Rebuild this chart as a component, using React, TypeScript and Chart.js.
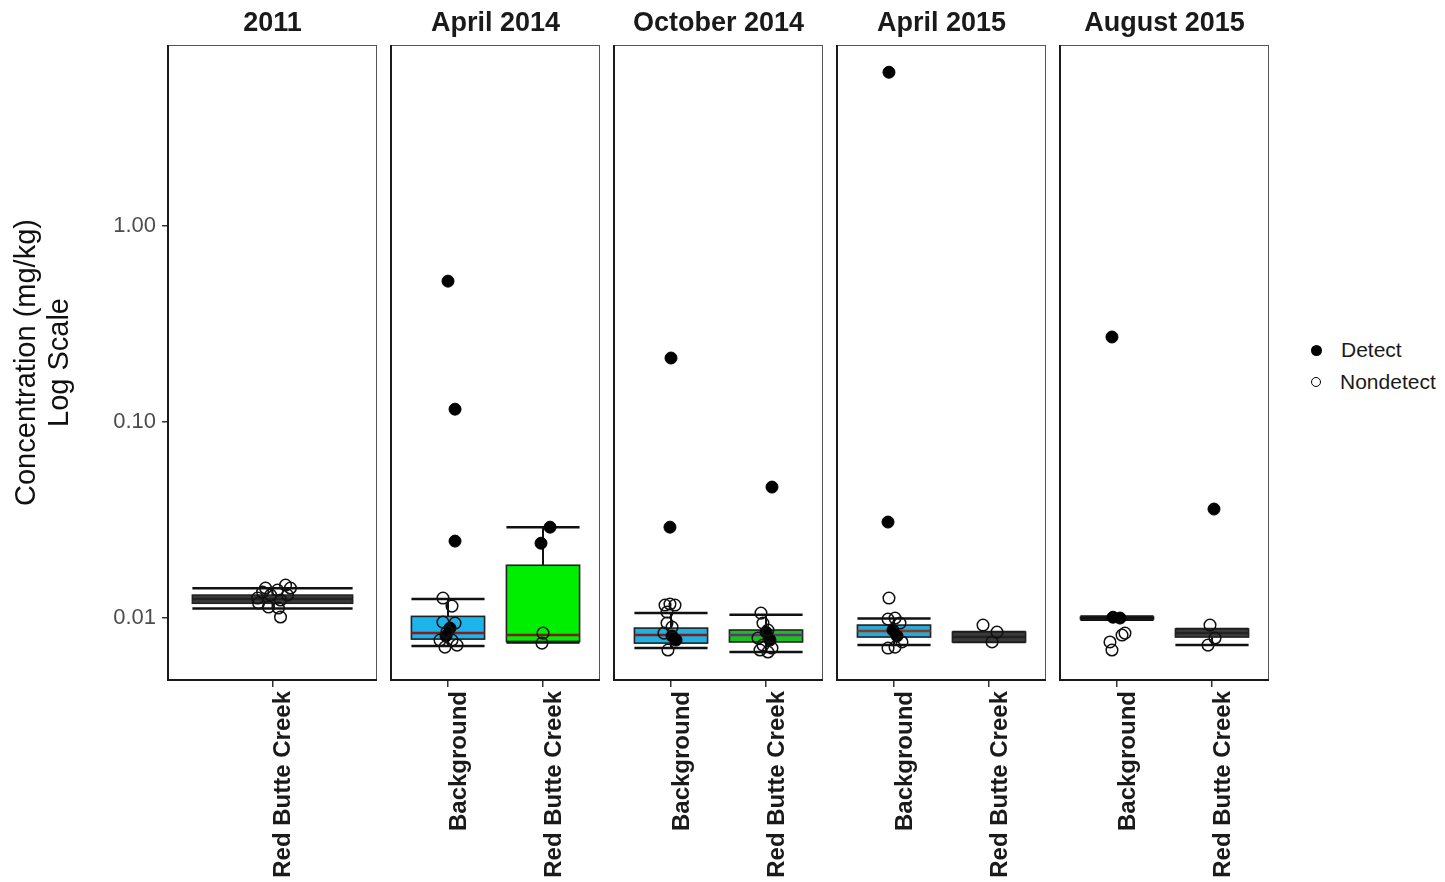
import React, { useEffect, useRef } from "react";
import { Chart, registerables } from "chart.js";

Chart.register(...registerables);

// ---------------- data ----------------
const panelTitles = ["2011", "April 2014", "October 2014", "April 2015", "August 2015"];

const categories2011 = ["Red Butte Creek"];
const categoriesApr2014 = ["Background", "Red Butte Creek"];
const categoriesOct2014 = ["Background", "Red Butte Creek"];
const categoriesApr2015 = ["Background", "Red Butte Creek"];
const categoriesAug2015 = ["Background", "Red Butte Creek"];

const yTickValues = [0.01, 0.1, 1];
const yMin = 0.00483;
const yMax = 8.4;

// box stats per category: [low whisker, Q1, median, Q3, high whisker]
const box2011 = [[0.0112, 0.0119, 0.0125, 0.0131, 0.0142]];
const boxApr2014 = [
  [0.0072, 0.00781, 0.00838, 0.0102, 0.0125],
  [0.0075, 0.0076, 0.00819, 0.0186, 0.0291],
];
const boxOct2014 = [
  [0.00703, 0.00745, 0.00819, 0.00889, 0.0106],
  [0.00671, 0.00755, 0.00819, 0.00869, 0.0104],
];
const boxApr2015 = [
  [0.00728, 0.008, 0.00858, 0.00921, 0.00994],
  [0.00755, 0.00755, 0.008, 0.00848, 0.00848],
];
const boxAug2015 = [
  [0.0098, 0.0099, 0.01, 0.0101, 0.0102],
  [0.00728, 0.008, 0.00838, 0.00879, 0.00879],
];

// points: [category position (1-based) with jitter, concentration]
const detect2011: number[][] = [];
const nondetect2011 = [
  [0.96, 0.01423], [1.075, 0.01472], [1.029, 0.01389], [0.914, 0.01265], [0.989, 0.01311],
  [1.046, 0.01236], [1.086, 0.01311], [0.92, 0.01193], [0.977, 0.01138], [1.034, 0.01125],
  [1.046, 0.01012], [0.943, 0.01358], [1.103, 0.01423],
];
const detectApr2014 = [
  [1.0, 0.524], [1.074, 0.1164], [1.074, 0.0247], [1.021, 0.00889], [0.979, 0.0081],
  [2.074, 0.0291], [1.979, 0.0241],
];
const nondetectApr2014 = [
  [0.947, 0.01265], [1.042, 0.01151], [0.947, 0.00954], [1.074, 0.00943], [0.989, 0.00848],
  [0.916, 0.00772], [1.042, 0.00772], [0.968, 0.00711], [1.095, 0.00728],
  [2.0, 0.00838], [1.989, 0.00745],
];
const detectOct2014 = [
  [1.0, 0.2123], [0.989, 0.0291], [1.011, 0.0081], [1.053, 0.00772],
  [2.063, 0.0466], [2.0, 0.00848], [2.042, 0.00772],
];
const nondetectOct2014 = [
  [0.937, 0.01165], [0.989, 0.01179], [1.042, 0.01165], [0.958, 0.01073], [0.958, 0.00943],
  [1.011, 0.009], [0.968, 0.00687], [0.926, 0.00838],
  [1.947, 0.0106], [1.968, 0.00943], [2.021, 0.00869], [1.916, 0.00791], [1.968, 0.00728],
  [2.063, 0.00703], [1.937, 0.00687], [2.021, 0.00671],
];
const detectApr2015 = [[0.947, 6.1], [0.937, 0.0309], [0.989, 0.00868], [1.032, 0.0081]];
const nondetectApr2015 = [
  [0.947, 0.01265], [0.937, 0.00988], [1.011, 0.01], [1.063, 0.00943], [1.084, 0.00755],
  [0.937, 0.00703], [1.011, 0.00711],
  [1.937, 0.00921], [2.084, 0.00848], [2.032, 0.00755],
];
const detectAug2015 = [[0.947, 0.2718], [0.958, 0.0101], [1.032, 0.01], [2.021, 0.036]];
const nondetectAug2015 = [
  [0.926, 0.00755], [1.053, 0.00819], [1.084, 0.00838], [0.947, 0.00687],
  [1.979, 0.00921], [1.958, 0.00728], [2.032, 0.00791],
];

// ---------------- styles ----------------
const boxFills = [
  ["#3b3b3b"],
  ["#1cb4ea", "#00ee00"],
  ["#22b0e0", "#19c219"],
  ["#2aa8d8", "#3a3a3a"],
  ["#111111", "#3e3e3e"],
];
const medianColors = [
  ["#222222"],
  ["#8b1a1a", "#7a1f1f"],
  ["#7b1e1e", "#6a2c8a"],
  ["#8a3a1a", "#222222"],
  ["#111111", "#222222"],
];
const boxHalfWidth = [0.46, 0.385, 0.385, 0.385, 0.385];

const PANEL_LEFT = [168, 391, 614, 837, 1060];
const PANEL_W = 209;
const PANEL_TOP = 45;
const X_AXIS_H = 202;
const Y_AXIS_W = 168;
const FONT = "'Liberation Sans', Arial, Helvetica, sans-serif";

const panels = [
  { cats: categories2011, boxes: box2011, detect: detect2011, nondetect: nondetect2011 },
  { cats: categoriesApr2014, boxes: boxApr2014, detect: detectApr2014, nondetect: nondetectApr2014 },
  { cats: categoriesOct2014, boxes: boxOct2014, detect: detectOct2014, nondetect: nondetectOct2014 },
  { cats: categoriesApr2015, boxes: boxApr2015, detect: detectApr2015, nondetect: nondetectApr2015 },
  { cats: categoriesAug2015, boxes: boxAug2015, detect: detectAug2015, nondetect: nondetectAug2015 },
];

function makeBoxPlugin(idx: number) {
  return {
    id: "boxes" + idx,
    beforeDatasetsDraw(chart: any) {
      const { ctx, chartArea: a, scales } = chart;
      const x = scales.x;
      const y = scales.y;
      const p = panels[idx];
      ctx.save();
      // panel frame
      ctx.strokeStyle = "#555555";
      ctx.lineWidth = 1;
      ctx.strokeRect(a.left + 0.5, a.top + 0.5, a.right - a.left - 1, a.bottom - a.top - 1);
      ctx.strokeStyle = "#1a1a1a";
      ctx.lineWidth = 2;
      ctx.beginPath();
      ctx.moveTo(a.left, a.top);
      ctx.lineTo(a.left, a.bottom);
      ctx.lineTo(a.right, a.bottom);
      ctx.stroke();
      // boxes
      p.boxes.forEach((b, i) => {
        const c = i + 1;
        const hw = boxHalfWidth[idx];
        const xl = x.getPixelForValue(c - hw);
        const xr = x.getPixelForValue(c + hw);
        const xc = x.getPixelForValue(c);
        const [lo, q1, med, q3, hi] = b.map((v: number) => y.getPixelForValue(v));
        ctx.strokeStyle = "#111111";
        ctx.lineWidth = 2;
        // whiskers
        ctx.beginPath();
        ctx.moveTo(xc, q3);
        ctx.lineTo(xc, hi);
        ctx.moveTo(xc, q1);
        ctx.lineTo(xc, lo);
        ctx.stroke();
        // caps
        ctx.lineWidth = 2.5;
        ctx.beginPath();
        ctx.moveTo(xl, hi);
        ctx.lineTo(xr, hi);
        ctx.moveTo(xl, lo);
        ctx.lineTo(xr, lo);
        ctx.stroke();
        // box
        ctx.fillStyle = boxFills[idx][i];
        ctx.fillRect(xl, q3, xr - xl, q1 - q3);
        ctx.lineWidth = 1.6;
        ctx.strokeStyle = "#222222";
        ctx.strokeRect(xl, q3, xr - xl, q1 - q3);
        // median
        ctx.strokeStyle = medianColors[idx][i];
        ctx.lineWidth = 2.5;
        ctx.beginPath();
        ctx.moveTo(xl, med);
        ctx.lineTo(xr, med);
        ctx.stroke();
      });
      ctx.restore();
    },
  };
}

function Panel({ idx }: { idx: number }) {
  const ref = useRef<HTMLCanvasElement | null>(null);
  const p = panels[idx];
  const showY = idx === 0;
  const leftExtra = showY ? Y_AXIS_W : 2;
  const width = leftExtra + PANEL_W + 2;
  const height = 882;

  useEffect(() => {
    if (!ref.current) return;
    const toPts = (arr: number[][]) => arr.map(([px, py]) => ({ x: px, y: py }));
    const chart = new Chart(ref.current, {
      type: "scatter",
      data: {
        datasets: [
          {
            label: "Nondetect",
            data: toPts(p.nondetect),
            pointRadius: 5.8,
            pointBackgroundColor: "rgba(255,255,255,0)",
            pointBorderColor: "#111111",
            pointBorderWidth: 1.5,
          },
          {
            label: "Detect",
            data: toPts(p.detect),
            pointRadius: 6,
            pointBackgroundColor: "#000000",
            pointBorderColor: "#000000",
            pointBorderWidth: 1,
          },
        ],
      },
      options: {
        responsive: false,
        animation: false,
        maintainAspectRatio: false,
        layout: { autoPadding: false, padding: { top: PANEL_TOP, left: showY ? 0 : 2, right: 2, bottom: 0 } },
        plugins: { legend: { display: false }, tooltip: { enabled: false }, title: { display: false } },
        scales: {
          x: {
            type: "linear",
            min: 0.4,
            max: p.cats.length + 0.6,
            afterBuildTicks: (s: any) => {
              s.ticks = p.cats.map((_: string, i: number) => ({ value: i + 1 }));
            },
            afterFit: (s: any) => {
              s.height = X_AXIS_H;
              s.paddingLeft = 0;
              s.paddingRight = 0;
            },
            ticks: {
              autoSkip: false,
              maxRotation: 90,
              minRotation: 90,
              padding: 4,
              labelOffset: 11,
              color: "#1a1a1a",
              font: { family: FONT, size: 24, weight: "bold" },
              callback: (v: any) => p.cats[Math.round(Number(v)) - 1] ?? "",
            },
            grid: { display: true, drawOnChartArea: false, drawTicks: true, tickLength: 7, color: "#333333", lineWidth: 1.5 },
            border: { display: false },
          },
          y: {
            type: "logarithmic",
            display: showY,
            min: yMin,
            max: yMax,
            afterBuildTicks: (s: any) => {
              s.ticks = yTickValues.map((v) => ({ value: v }));
            },
            afterFit: (s: any) => {
              s.width = showY ? Y_AXIS_W : 0;
              s.paddingTop = 0;
              s.paddingBottom = 0;
            },
            ticks: {
              padding: 6,
              color: "#4d4d4d",
              font: { family: FONT, size: 22 },
              callback: (v: any) => Number(v).toFixed(2),
            },
            grid: { display: true, drawOnChartArea: false, drawTicks: true, tickLength: 6, color: "#333333", lineWidth: 1.5 },
            border: { display: false },
            title: {
              display: true,
              text: ["Concentration (mg/kg)", "Log Scale"],
              color: "#111111",
              font: { family: FONT, size: 29, lineHeight: 1.15 },
              padding: { top: 10, bottom: 0 },
            },
          },
        },
      },
      plugins: [makeBoxPlugin(idx)],
    } as any);
    return () => chart.destroy();
  }, [idx]);

  return (
    <canvas
      ref={ref}
      width={width}
      height={height}
      style={{ position: "absolute", left: PANEL_LEFT[idx] - leftExtra, top: 0, width, height }}
    />
  );
}

export default function App() {
  return (
    <div style={{ position: "absolute", left: 0, top: 0, width: 1445, height: 882, background: "#ffffff", overflow: "hidden" }}>
      {panels.map((_, i) => (
        <Panel key={i} idx={i} />
      ))}
      {panelTitles.map((t, i) => (
        <div
          key={t}
          style={{
            position: "absolute",
            left: PANEL_LEFT[i],
            width: PANEL_W,
            top: 6,
            textAlign: "center",
            fontFamily: FONT,
            fontWeight: "bold",
            fontSize: 27,
            lineHeight: "32px",
            color: "#1a1a1a",
            whiteSpace: "nowrap",
          }}
        >
          {t}
        </div>
      ))}
      <div style={{ position: "absolute", left: 1311, top: 335, fontFamily: FONT, fontSize: 21, color: "#1a1a1a" }}>
        <div style={{ display: "flex", alignItems: "center", height: 30 }}>
          <span style={{ display: "inline-block", width: 11, height: 11, borderRadius: "50%", background: "#000", marginRight: 19 }} />
          <span>Detect</span>
        </div>
        <div style={{ display: "flex", alignItems: "center", height: 34 }}>
          <span style={{ display: "inline-block", width: 8, height: 8, borderRadius: "50%", border: "1.5px solid #000", marginRight: 19, marginLeft: 0 }} />
          <span>Nondetect</span>
        </div>
      </div>
    </div>
  );
}
